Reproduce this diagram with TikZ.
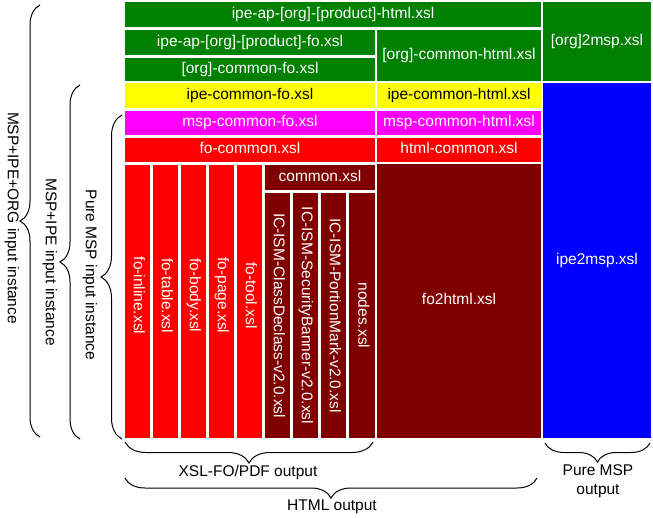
\documentclass[tikz,border=0pt]{standalone}
\usepackage{fontspec}
\setmainfont{Liberation Sans}
\usetikzlibrary{decorations.pathreplacing}
\definecolor{cgreen}{RGB}{0,128,0}
\definecolor{cyellow}{RGB}{255,255,0}
\definecolor{cmag}{RGB}{255,0,255}
\definecolor{cred}{RGB}{255,0,0}
\definecolor{cdark}{RGB}{128,0,0}
\definecolor{cblue}{RGB}{0,0,255}
\newcommand\fsz{\fontsize{15.5pt}{19pt}\selectfont}
\tikzset{
  cell/.style={inner sep=0pt, outer sep=0pt, text=white, font=\fsz, text height=11pt, text depth=3.5pt, align=center},
  vcell/.style={cell, rotate=-90},
  curly/.style={decorate, decoration={brace, amplitude=#1}, line width=1pt},
  lab/.style={font=\fsz, inner sep=0pt, align=center}
}
\begin{document}
\begin{tikzpicture}[x=1pt,y=-1pt]
\fill[white] (0,0) rectangle (653,518);
\useasboundingbox (0,0) rectangle (653,518);
% top rows
\node[cell, fill=cgreen, minimum width=416pt, minimum height=25pt] (aphtml) at (333,14.5) {ipe-ap-[org]-[product]-html.xsl};
\node[cell, fill=cgreen, minimum width=250pt, minimum height=25pt] (apfo) at (250,42.5) {ipe-ap-[org]-[product]-fo.xsl};
\node[cell, fill=cgreen, minimum width=250pt, minimum height=23pt] (orgfo) at (250,69.5) {[org]-common-fo.xsl};
\node[cell, fill=cgreen, minimum width=164pt, minimum height=51pt] (orghtml) at (459,55.5) {[org]-common-html.xsl};
\node[cell, fill=cgreen, minimum width=108pt, minimum height=79pt] (org2msp) at (597,41.5) {[org]2msp.xsl};
\node[cell, fill=cyellow, text=black, minimum width=250pt, minimum height=25pt] (ipefo) at (250,95.5) {ipe-common-fo.xsl};
\node[cell, fill=cyellow, text=black, minimum width=164pt, minimum height=25pt] (ipehtml) at (459,95.5) {ipe-common-html.xsl};
\node[cell, fill=cmag, minimum width=250pt, minimum height=24pt] (mspfo) at (250,123) {msp-common-fo.xsl};
\node[cell, fill=cmag, minimum width=164pt, minimum height=24pt] (msphtml) at (459,123) {msp-common-html.xsl};
\node[cell, fill=cred, minimum width=250pt, minimum height=24pt] (focommon) at (250,150) {fo-common.xsl};
\node[cell, fill=cred, minimum width=164pt, minimum height=24pt] (htmlcommon) at (459,150) {html-common.xsl};
\node[cell, fill=cblue, minimum width=108pt, minimum height=355pt] (ipe2msp) at (597,260.5) {ipe2msp.xsl};
\node[cell, fill=cdark, minimum width=164pt, minimum height=274pt] (fo2html) at (459,301) {fo2html.xsl};
\node[cell, fill=cdark, minimum width=110pt, minimum height=25pt] (common) at (320,177.5) {common.xsl};
% red columns
\node[vcell, fill=cred, minimum width=273pt, minimum height=25pt] (foinline) at (137.5,301.5) {fo-inline.xsl\hspace*{12pt}};
\node[vcell, fill=cred, minimum width=273pt, minimum height=25pt] (fotable) at (165.5,301.5) {fo-table.xsl\hspace*{12pt}};
\node[vcell, fill=cred, minimum width=273pt, minimum height=25pt] (fobody) at (193.5,301.5) {fo-body.xsl\hspace*{12pt}};
\node[vcell, fill=cred, minimum width=273pt, minimum height=25pt] (fopage) at (221.5,301.5) {fo-page.xsl\hspace*{12pt}};
\node[vcell, fill=cred, minimum width=273pt, minimum height=25pt] (fotool) at (249.5,301.5) {fo-tool.xsl\hspace*{12pt}};
% dark columns
\node[vcell, fill=cdark, minimum width=245pt, minimum height=25pt] (classdeclass) at (277.5,315.5) {IC-ISM-ClassDeclass-v2.0.xsl};
\node[vcell, fill=cdark, minimum width=245pt, minimum height=25pt] (secbanner) at (305.5,315.5) {IC-ISM-SecurityBanner-v2.0.xsl};
\node[vcell, fill=cdark, minimum width=245pt, minimum height=25pt] (portionmark) at (333.5,315.5) {IC-ISM-PortionMark-v2.0.xsl};
\node[vcell, fill=cdark, minimum width=245pt, minimum height=26pt] (nodes) at (362,315.5) {nodes.xsl};
% left braces and labels
\draw[curly=20pt] (40,437) -- (40,5);
\draw[curly=20pt] (80,439) -- (80,85);
\draw[curly=21pt] (122,439) -- (122,115);
\node[lab, rotate=-90] (l1) at (12,218) {MSP+IPE+ORG input instance};
\node[lab, rotate=-90] (l2) at (50,262) {MSP+IPE input instance};
\node[lab, rotate=-90] (l3) at (90,275) {Pure MSP input instance};
% bottom braces and labels
\draw[curly=21pt] (373,442) -- (125,442);
\draw[curly=20pt] (537,478) -- (125,478);
\draw[curly=19pt] (650,443) -- (545,443);
\node[lab] (b1) at (248,472.5) {XSL-FO/PDF output};
\node[lab] (b2) at (332,507) {HTML output};
\node[lab] (b3) at (598,481.5) {Pure MSP\\output};
\end{tikzpicture}
\end{document}
